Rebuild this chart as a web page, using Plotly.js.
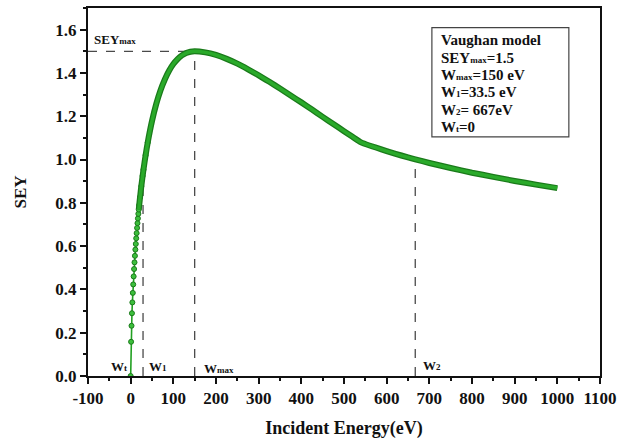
<!DOCTYPE html>
<html>
<head>
<meta charset="utf-8">
<script src="https://cdn.plot.ly/plotly-3.0.1.min.js"></script>
<style>html,body{margin:0;padding:0;background:#fff;}#chart{width:619px;height:443px;}</style>
</head>
<body>
<div id="chart"></div>
<script>
// Incident energy (eV) and SEY
const energy = [0,1,2,3,4,5,6,7,8,9,10,11,12,13,14,15,16,17,18,19,20,22,25,28,30,35,40,
  50,60,70,80,90,100,110,120,130,140,150,
  175,200,225,250,275,300,325,350,375,400,425,450,475,500,520,540,
  600,650,667,700,750,800,850,900,950,1000];
const sey = [0,0.158,0.232,0.290,0.340,0.384,0.423,0.460,0.494,0.525,0.555,0.584,0.610,0.636,0.660,0.684,0.706,0.728,0.749,0.769,0.789,0.826,0.877,0.924,0.953,1.020,1.079,
  1.178,1.257,1.320,1.370,1.410,1.441,1.464,1.481,1.492,1.498,1.500,
  1.495,1.483,1.465,1.443,1.417,1.389,1.359,1.328,1.296,1.264,1.231,1.197,1.164,1.131,1.105,1.079,
  1.039,1.010,1.001,0.984,0.961,0.939,0.920,0.901,0.884,0.868];
const markerCount = 27; // points drawn with visible markers (steep rise)
const bandStart = 19;   // where the overlapping markers merge into a thick band

// Axis ticks
const xTickVals = [-100,0,100,200,300,400,500,600,700,800,900,1000,1100];
const xTickText = ['-100','0','100','200','300','400','500','600','700','800','900','1000','1100'];

// Reference (dashed) marks
const SEYmax = 1.5, Wmax = 150;
const W1_line = 29, W1_top = 0.93;
const W2 = 667, W2_top = 1.0;
const xMin = -100, xMax = 1100, yMax = 1.7;

// Text of the parameter box
const boxLines = [
  'Vaughan model',
  'SEY<span style="font-size:9px">max</span>=1.5',
  'W<span style="font-size:9px">max</span>=150 eV',
  'W<span style="font-size:9px">1</span>=33.5 eV',
  'W<span style="font-size:9px">2</span>= 667eV',
  'W<span style="font-size:9px">t</span>=0'
];

const serif = 'Liberation Serif, Times New Roman, serif';
const dashStyle = {color: '#4a4a4a', width: 1.3, dash: 'dash'};

const bandE = energy.slice(bandStart), bandS = sey.slice(bandStart);
const traces = [
  {x: [xMin, Wmax], y: [SEYmax, SEYmax], mode: 'lines', line: dashStyle, hoverinfo: 'skip'},
  {x: [Wmax, Wmax], y: [0, SEYmax], mode: 'lines', line: dashStyle, hoverinfo: 'skip'},
  {x: [W1_line, W1_line], y: [0, W1_top], mode: 'lines', line: dashStyle, hoverinfo: 'skip'},
  {x: [W2, W2], y: [0, W2_top], mode: 'lines', line: dashStyle, hoverinfo: 'skip'},
  {x: energy.slice(0, markerCount), y: sey.slice(0, markerCount), mode: 'lines+markers',
   line: {color: '#22a022', width: 1.6},
   marker: {size: 5, color: '#3cbf3c', line: {color: '#1a7a1a', width: 1}}},
  {x: bandE, y: bandS, mode: 'lines', line: {color: '#1a7a1a', width: 6, shape: 'spline', smoothing: 0.5}},
  {x: bandE, y: bandS, mode: 'lines', line: {color: '#2aaa2a', width: 3.5, shape: 'spline', smoothing: 0.5}}
];

const annotations = [];
const lowFont = {family: serif, size: 13, color: '#111', weight: 'bold'};
const addText = (txt, x, y, anchor, font) => annotations.push({
  text: txt, x: x, y: y, xref: 'x', yref: 'y', xanchor: anchor, yanchor: 'middle',
  showarrow: false, font: font, align: 'left'
});
addText('W<span style="font-size:9px">t</span>', -27, 0.042, 'center', lowFont);
addText('W<span style="font-size:9px">1</span>', 64, 0.042, 'center', lowFont);
addText('W<span style="font-size:9px">max</span>', 207, 0.033, 'center', lowFont);
addText('W<span style="font-size:9px">2</span>', 706, 0.047, 'center', lowFont);
addText('SEY<span style="font-size:9px">max</span>', -91, 1.554, 'left', lowFont);

const boxFont = {family: serif, size: 15, color: '#111', weight: 'bold'};
const boxY = [1.552, 1.470, 1.392, 1.313, 1.230, 1.151];
boxLines.forEach((t, i) => addText(t, 722, boxY[i], 'left', boxFont));

const layout = {
  width: 619, height: 443,
  margin: {l: 88, r: 19, t: 8, b: 67},
  paper_bgcolor: '#fff', plot_bgcolor: '#fff',
  showlegend: false,
  font: {family: serif, color: '#111'},
  xaxis: {
    range: [xMin, xMax], tickmode: 'array', tickvals: xTickVals, ticktext: xTickText,
    showgrid: false, zeroline: false,
    showline: true, mirror: true, linecolor: '#111', linewidth: 2,
    ticks: 'outside', ticklen: 6, tickwidth: 2, tickcolor: '#111',
    minor: {tickmode: 'linear', tick0: 50, dtick: 50, ticks: 'outside', ticklen: 3, tickwidth: 2, tickcolor: '#111', showgrid: false},
    tickfont: {family: serif, size: 17, color: '#111', weight: 'bold'},
    title: {text: 'Incident Energy(eV)', font: {family: serif, size: 18, color: '#111', weight: 'bold'}, standoff: 14}
  },
  yaxis: {
    range: [0, yMax], dtick: 0.2, tick0: 0, tickformat: '.1f',
    showgrid: false, zeroline: false,
    showline: true, mirror: true, linecolor: '#111', linewidth: 2,
    ticks: 'outside', ticklen: 6, tickwidth: 2, tickcolor: '#111',
    minor: {dtick: 0.1, ticks: 'outside', ticklen: 3, tickwidth: 2, tickcolor: '#111', showgrid: false},
    tickfont: {family: serif, size: 17, color: '#111', weight: 'bold'},
    title: {text: 'SEY', font: {family: serif, size: 17, color: '#111', weight: 'bold'}, standoff: 24}
  },
  shapes: [{
    type: 'rect', xref: 'x', yref: 'y', x0: 706, x1: 1027, y0: 1.105, y1: 1.609,
    line: {color: '#444', width: 1.2}, fillcolor: 'rgba(0,0,0,0)'
  }],
  annotations: annotations
};

Plotly.newPlot('chart', traces, layout, {staticPlot: true, displayModeBar: false});
</script>
</body>
</html>
